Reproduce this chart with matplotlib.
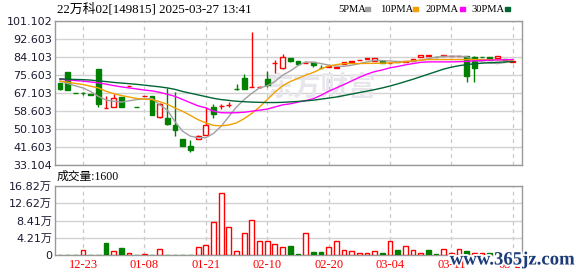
import numpy as np
import matplotlib
matplotlib.use('Agg')
import matplotlib.pyplot as plt
import matplotlib.patheffects as pe

# K线数据 (开, 收, 高, 低) —— 估计值
opens = [71.6, 77.1, 67.0, 67.0, 66.4, 78.2, 60.1, 60.6, 65.1, 70.5,
         60.7, 65.8, 65.9, 55.9, 55.2, 52.2, 45.2, 42.0, 45.5, 47.4,
         60.4, 61.0, 61.5, 69.2, 74.3, 69.8, 69.9, 73.5, 81.3, 78.8,
         83.4, 82.0, 81.3, 81.6, 79.1, 79.5, 78.7, 80.7, 81.9, 82.8,
         83.3, 82.4, 82.0, 81.3, 81.8, 81.8, 82.3, 83.9, 84.7, 84.2,
         84.7, 84.5, 84.5, 84.6, 84.2, 84.3, 84.0, 83.4, 83.1, 81.7]
closes = [68.8, 68.4, 66.9, 66.9, 66.3, 61.8, 60.2, 64.8, 60.6, 70.6,
          60.6, 65.9, 56.5, 61.8, 52.7, 49.4, 42.0, 40.1, 46.7, 51.8,
          57.3, 61.2, 61.6, 69.1, 69.2, 70.0, 70.0, 71.1, 81.4, 84.2,
          82.1, 80.7, 81.4, 80.2, 79.0, 79.7, 79.5, 81.6, 82.0, 82.9,
          83.4, 83.4, 81.2, 81.5, 81.6, 82.0, 83.2, 84.9, 84.8, 84.0,
          84.8, 84.6, 84.7, 75.0, 78.8, 84.2, 82.9, 84.4, 82.9, 82.3]
highs = [71.6, 77.1, 67.0, 67.8, 66.4, 78.2, 65.9, 66.4, 65.1, 70.6,
         60.7, 65.9, 65.9, 62.5, 69.6, 67.5, 45.2, 44.8, 47.5, 60.3,
         62.1, 62.1, 63.0, 71.4, 76.3, 95.8, 70.5, 77.4, 82.5, 85.5,
         83.4, 82.0, 81.6, 81.6, 80.2, 79.8, 79.5, 81.6, 82.0, 82.9,
         83.4, 83.4, 82.0, 81.5, 81.8, 82.0, 83.2, 85.2, 84.8, 84.2,
         84.8, 84.6, 84.7, 84.8, 84.8, 84.3, 84.0, 84.4, 83.1, 82.3]
lows = [68.3, 68.4, 66.9, 66.0, 66.3, 60.6, 60.1, 60.6, 60.6, 70.5,
        60.6, 65.8, 56.5, 55.2, 51.8, 46.7, 42.0, 39.1, 45.5, 47.4,
        55.4, 59.6, 60.5, 68.3, 69.2, 69.8, 69.4, 70.0, 76.5, 78.5,
        81.6, 80.7, 81.2, 79.6, 78.7, 79.4, 78.7, 80.7, 81.9, 82.8,
        83.3, 82.4, 81.2, 81.3, 81.6, 81.8, 82.3, 83.9, 84.7, 84.0,
        84.7, 84.5, 84.5, 72.2, 72.2, 84.2, 82.9, 83.4, 82.9, 81.7]

# 均线
ma5 = [72.7, 71.6, 70.5, 69.5, 67.8, 65.5, 63.8, 63.2, 62.8, 63.4,
       64.0, 64.2, 64.5, 61.5, 59.0, 53.5, 49.0, 46.7, 46.0, 46.0,
       48.0, 51.4, 56.0, 60.5, 64.0, 67.0, 69.5, 70.5, 72.5, 75.5,
       77.5, 80.0, 81.8, 81.6, 81.0, 80.3, 79.8, 79.7, 80.2, 81.0,
       81.8, 82.5, 82.4, 82.2, 82.0, 81.9, 82.0, 82.6, 83.3, 84.0,
       84.4, 84.5, 84.5, 84.2, 82.6, 81.8, 81.3, 81.0, 81.5, 82.5]
ma10 = [72.7, 72.2, 71.6, 71.1, 70.3, 69.5, 67.9, 66.8, 65.9, 65.2,
        64.5, 64.2, 64.0, 63.0, 61.8, 60.0, 58.4, 56.5, 54.5, 53.0,
        51.8, 51.6, 52.0, 53.0, 55.0, 57.5, 60.5, 64.0, 67.5, 70.5,
        72.5, 74.0, 75.5, 76.8, 78.5, 79.8, 80.5, 81.0, 81.0, 81.0,
        81.1, 81.1, 81.2, 81.3, 81.5, 81.9, 82.3, 82.6, 82.9, 82.9,
        82.9, 82.9, 82.9, 82.9, 82.9, 82.9, 82.8, 82.8, 82.7, 82.6]
ma20 = [73.6, 73.3, 73.0, 72.7, 72.3, 71.9, 71.3, 70.6, 70.0, 69.5,
        69.0, 68.5, 68.1, 67.4, 66.5, 65.5, 64.0, 62.5, 61.0, 60.1,
        58.5, 57.8, 57.7, 57.8, 58.0, 58.5, 59.0, 59.5, 60.5, 61.5,
        62.0, 62.8, 63.5, 64.4, 66.0, 67.9, 69.5, 71.1, 72.8, 74.5,
        76.0, 77.2, 78.0, 79.0, 79.6, 80.4, 81.0, 81.6, 81.8, 81.8,
        81.8, 81.8, 81.9, 82.0, 82.3, 82.5, 82.6, 82.7, 82.8, 82.9]
ma30 = [73.8, 73.6, 73.5, 73.4, 73.2, 72.8, 72.5, 72.1, 71.8, 71.5,
        71.2, 70.8, 70.4, 70.0, 69.5, 68.8, 67.8, 67.0, 66.2, 65.4,
        64.6, 64.0, 63.6, 63.2, 63.0, 62.8, 62.7, 62.6, 62.6, 62.7,
        62.9, 63.1, 63.4, 63.7, 64.2, 64.7, 65.2, 65.9, 66.6, 67.3,
        68.0, 68.7, 69.5, 70.4, 71.4, 72.5, 73.6, 74.8, 76.0, 77.2,
        78.4, 79.3, 80.0, 80.5, 80.9, 81.2, 81.4, 81.6, 81.8, 81.9]

# 成交量 (万)
vol = [0.1, 0.1, 0.1, 1.1, 0.1, 0.1, 2.9, 0.9, 1.7, 0.5,
       0.1, 0.2, 0.1, 1.4, 0.1, 0.1, 0.1, 0.1, 1.9, 2.5,
       8.0, 15.2, 6.8, 0.9, 5.4, 8.6, 3.3, 3.5, 2.8, 1.9,
       2.1, 0.3, 5.4, 0.7, 0.7, 1.9, 3.3, 1.1, 0.9, 0.6,
       0.5, 0.9, 0.5, 3.5, 1.2, 2.1, 1.1, 0.5, 1.1, 0.2,
       1.4, 0.6, 1.4, 1.0, 0.6, 0.6, 0.5, 0.4, 0.25, 0.2]
vol_up = [0, 0, 0, 1, 0, 0, 0, 1, 0, 1,
          0, 1, 0, 1, 0, 0, 0, 0, 1, 1,
          1, 1, 1, 1, 1, 1, 1, 1, 1, 1,
          0, 0, 1, 0, 0, 1, 1, 1, 1, 1,
          1, 1, 0, 1, 0, 1, 1, 1, 0, 0,
          1, 1, 1, 0, 1, 1, 0, 1, 0, 0]

date_pos = [3, 11, 19, 27, 35, 43, 51, 59]
date_labels = ['12-23', '01-08', '01-21', '02-10', '02-20', '03-04', '03-11', '03-21']
price_ticks = ['33.104', '41.603', '50.103', '58.603', '67.103', '75.603', '84.103', '92.603', '101.102']
vol_ticks = [0, 4.21, 8.41, 12.62, 16.82]
vol_tick_labels = ['0', '4.21万', '8.41万', '12.62万', '16.82万']

RED = '#ff0000'
GREEN = '#008000'
GRID = '#d2d2d2'
TXT = '#1a1a33'
CJK = ['Liberation Serif', 'Noto Sans CJK SC']

fig = plt.figure(figsize=(5.78, 2.76), dpi=100)
ax = fig.add_axes([55/578, 1-165/276, 467/578, 144/276])
axv = fig.add_axes([55/578, 1-255/276, 467/578, 69/276])

x = np.arange(len(opens))
pmin, pmax = float(price_ticks[0]), float(price_ticks[-1])
ptick_vals = np.linspace(pmin, pmax, len(price_ticks))

for a in (ax, axv):
    a.set_xlim(-0.65, 60.2)
    for s in a.spines.values():
        s.set_color('#999999')
        s.set_linewidth(1)
    a.tick_params(length=0, labelsize=8, colors=TXT, pad=2)
    for p in date_pos:
        a.axvline(p, color='#c8c8c8', lw=0.9, ls=(0, (3, 3)), zorder=0)

ax.set_ylim(pmin, pmax)
ax.set_yticks(ptick_vals)
ax.set_yticklabels(price_ticks)
for v in ptick_vals:
    ax.axhline(v, color=GRID, lw=1, zorder=0)
ax.set_xticks([])

# 水印
ax.text(0.45, 0.54, '东方财富', transform=ax.transAxes, fontsize=20,
        family=['Noto Sans CJK SC'], fontweight='bold', color='#e6e6ec',
        ha='left', va='center', zorder=1)

# 蜡烛
w = 0.62
for i in x:
    o, c, h, l = opens[i], closes[i], highs[i], lows[i]
    up = c >= o
    col = RED if up else GREEN
    ax.vlines(i, l, h, color=col, lw=1, zorder=2)
    hgt = max(abs(c - o), 0.12)
    if up:
        ax.bar(i, hgt, bottom=min(o, c), width=w, facecolor='white',
               edgecolor=col, lw=1, zorder=3)
    else:
        ax.bar(i, hgt, bottom=min(o, c), width=w, facecolor=col,
               edgecolor=col, lw=1, zorder=3)

ax.plot(x, ma5, color='#a0a0a0', lw=1, zorder=4)
ax.plot(x, ma10, color='#f0a000', lw=1, zorder=4)
ax.plot(x, ma20, color='#ff00ff', lw=1, zorder=4)
ax.plot(x, ma30, color='#006633', lw=1, zorder=4)

# 成交量
axv.set_ylim(0, 16.82)
axv.set_yticks(vol_ticks)
axv.set_yticklabels(vol_tick_labels, family=['DejaVu Sans', 'Noto Sans CJK SC'])
for v in vol_ticks[1:]:
    axv.axhline(v, color=GRID, lw=1, zorder=0)
for i in x:
    if vol_up[i]:
        axv.bar(i, vol[i], width=w, facecolor='white', edgecolor=RED, lw=1, zorder=3)
    else:
        axv.bar(i, vol[i], width=w, facecolor=GREEN, edgecolor=GREEN, lw=1, zorder=3)
axv.set_xticks(date_pos)
axv.set_xticklabels(date_labels, color=RED, family=['Liberation Serif'], fontsize=9)
axv.tick_params(axis='x', pad=3)

# 标题与图例
fig.text(57/578, 1-9/276, '22万科02[149815] 2025-03-27 13:41', family=CJK,
         fontsize=9.3, color='black', va='center', ha='left')
fig.text(57/578, 1-177/276, '成交量:1600', family=CJK,
         fontsize=8.5, color='black', va='center', ha='left')

leg = [('5PMA', '#a0a0a0', 338, 365), ('10PMA', '#f0a000', 380, 413),
       ('20PMA', '#ff00ff', 425, 460), ('30PMA', '#006633', 471, 505)]
for name, col, px, sx in leg:
    fig.text(px/578, 1-9/276, name, family=['Liberation Serif'], fontsize=7.6,
             color='black', va='center', ha='left')
    fig.patches.append(plt.Rectangle((sx/578, 1-11/276), 5/578, 4/276,
                                     transform=fig.transFigure, color=col, figure=fig))

fig.text(0.886, 1-260/276, 'www.365jz.com', family=['Liberation Serif'], fontsize=13.5,
         fontweight='bold', color='#1c3c78', ha='center', va='center',
         path_effects=[pe.withStroke(linewidth=2.5, foreground='white')])

fig.savefig('out.png', dpi=100)
